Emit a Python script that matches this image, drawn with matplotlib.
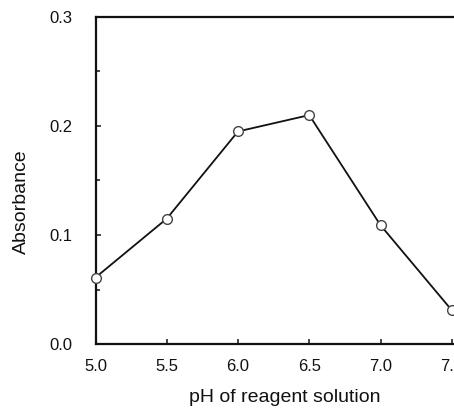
import matplotlib
matplotlib.use("Agg")
import matplotlib.pyplot as plt
from matplotlib.ticker import MultipleLocator, FormatStrFormatter

plt.rcParams['font.family'] = ['Liberation Sans', 'DejaVu Sans']

# Absorbance versus pH of the reagent solution
ph = [5.0, 5.5, 6.0, 6.5, 7.0, 7.5]
absorbance = [0.061, 0.115, 0.195, 0.210, 0.109, 0.031]
xticks = [5.0, 5.5, 6.0, 6.5, 7.0, 7.5]
yticks = [0.0, 0.1, 0.2, 0.3]

W, H = 454, 408
fig = plt.figure(figsize=(W / 100, H / 100), dpi=100)

left_px, right_px, top_px, bottom_px = 95.5, 466.0, 17.0, 344.0
ax = fig.add_axes([left_px / W, 1 - bottom_px / H,
                   (right_px - left_px) / W, (bottom_px - top_px) / H])

ax.plot(ph, absorbance, color='#111111', lw=1.3, zorder=2)
ax.plot(ph, absorbance, ls='none', marker='o', ms=7, mfc='white',
        mec='#444444', mew=1.0, zorder=3, clip_on=False)

ax.set_xlim(5.0, 7.6)
ax.set_ylim(0.0, 0.3)
ax.set_xticks(xticks)
ax.set_yticks(yticks)
ax.xaxis.set_major_formatter(FormatStrFormatter('%.1f'))
ax.yaxis.set_major_formatter(FormatStrFormatter('%.1f'))
ax.yaxis.set_minor_locator(MultipleLocator(0.05))

for side in ('left', 'top', 'bottom'):
    ax.spines[side].set_linewidth(1.6)
    ax.spines[side].set_color('#111111')
ax.spines['right'].set_visible(False)

ax.tick_params(axis='both', which='both', direction='in', width=1.1,
               color='#111111', labelsize=12, labelcolor='#111111')
ax.tick_params(axis='both', which='major', length=3.5)
ax.tick_params(axis='y', which='minor', length=3)
ax.tick_params(axis='y', which='major', pad=16.5)
ax.tick_params(axis='x', which='major', pad=10.5)
ax.tick_params(top=False, right=False)

ax.set_xlabel('pH of reagent solution', fontsize=14, color='#111111')
ax.set_ylabel('Absorbance', fontsize=14, color='#111111')
ax.xaxis.set_label_coords((285 - left_px) / (right_px - left_px),
                          (bottom_px - 389) / (bottom_px - top_px))
ax.yaxis.set_label_coords((30 - left_px) / (right_px - left_px),
                          (bottom_px - 201.5) / (bottom_px - top_px))

fig.savefig('out.png', dpi=100)
